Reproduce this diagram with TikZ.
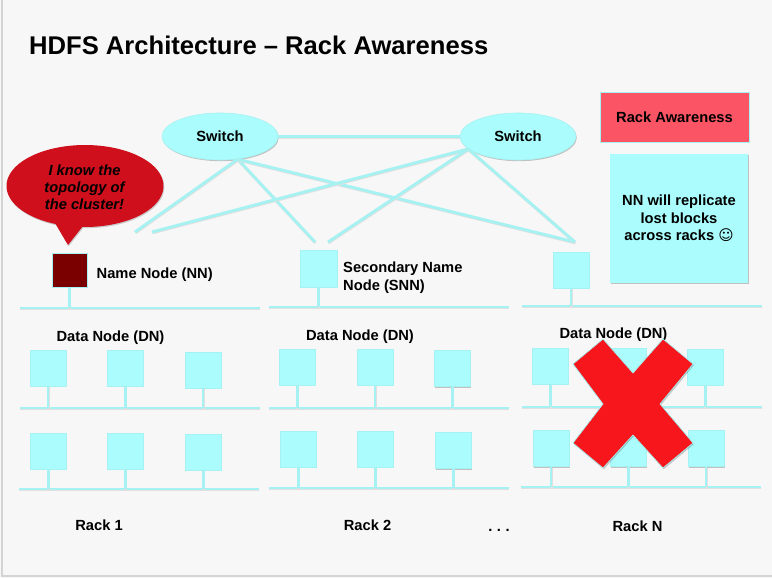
\documentclass[tikz,border=0pt]{standalone}
\usepackage{fontspec}
\setmainfont{Liberation Sans}
\newfontfamily\symfont{DejaVu Sans}
\usetikzlibrary{shapes.geometric,shadows}

\definecolor{paper}{HTML}{F7F7F7}
\definecolor{frame}{HTML}{D4D4D4}
\definecolor{aqua}{HTML}{ABFCFC}
\definecolor{wirecol}{HTML}{A6F1F1}
\definecolor{bubblered}{HTML}{CF101C}
\definecolor{nnred}{HTML}{7A0000}
\definecolor{tagred}{HTML}{FB5464}
\definecolor{xred}{HTML}{F6161B}

\tikzset{
  body/.style={font=\fontsize{14.7}{17.5}\selectfont\bfseries, inner sep=0pt},
  shadowed/.style={drop shadow={shadow xshift=0.8pt, shadow yshift=-1.2pt, opacity=0.22, fill=black}},
  wire/.style={draw=wirecol, line width=2.9pt,
    preaction={draw=black!12, line width=2.9pt, transform canvas={shift={(0.4pt,-0.9pt)}}}},
  hostflat/.style={rectangle, fill=aqua, draw=wirecol, line width=0.6pt,
    minimum width=36pt, minimum height=36pt, inner sep=0pt},
  hostbox/.style={hostflat, shadowed},
  switchnode/.style={ellipse, fill=aqua, draw=wirecol, line width=0.6pt,
    minimum width=116pt, minimum height=47pt, inner sep=0pt, shadowed, body},
}

\begin{document}
\begin{tikzpicture}[x=1pt, y=-1pt]
  % page
  \useasboundingbox (0,0) rectangle (772,578);
  \fill[paper] (0,0) rectangle (772,578);
  \draw[frame, line width=1.2pt] (2,0) -- (2,576) -- (772,576);

  % title
  \node[anchor=base west, inner sep=0pt, font=\fontsize{25.6}{30}\selectfont\bfseries]
    (title) at (29,55) {HDFS Architecture -- Rack Awareness};

  % switches
  \node[switchnode] (sw1) at (220,136.5) {Switch};
  \node[switchnode] (sw2) at (518,136.5) {Switch};

  % free ends of the uplinks
  \coordinate (upA) at (135,232);
  \coordinate (upB) at (152,232);
  \coordinate (upC) at (315,242);
  \coordinate (upD) at (328,242);
  \coordinate (upE) at (575,242);

  \draw[wire] (sw1.east) -- (sw2.west);
  \draw[wire] (sw1.-52) -- (upA);
  \draw[wire] (sw1.-52) -- (upC);
  \draw[wire] (sw1.-52) -- (upE);
  \draw[wire] (sw2.-166) -- (upB);
  \draw[wire] (sw2.-166) -- (upD);
  \draw[wire] (sw2.-166) -- (upE);

  % speech bubble
  \fill[black, opacity=0.18, shift={(0.8,1.2)}]
    (68,245) -- plot[domain=112:452, samples=120] ({85+78.5*cos(\x)},{186+41*sin(\x)}) -- cycle;
  \fill[bubblered]
    (68,245) -- plot[domain=112:452, samples=120] ({85+78.5*cos(\x)},{186+41*sin(\x)}) -- cycle;
  \node[body, align=center, font=\fontsize{14.7}{17.2}\selectfont\bfseries\itshape]
    (bubbletext) at (84.5,187) {I know the\\topology of\\the cluster!};

  % rack backbones
  \coordinate (r1top) at (20,308);   \coordinate (r1topE) at (260,308);
  \coordinate (r2top) at (269,307);  \coordinate (r2topE) at (509,307);
  \coordinate (r3top) at (522,306);  \coordinate (r3topE) at (762,306);
  \coordinate (r1a) at (20,408);     \coordinate (r1aE) at (260,408);
  \coordinate (r1b) at (19,489);     \coordinate (r1bE) at (259,489);
  \coordinate (r2a) at (269,408);    \coordinate (r2aE) at (509,408);
  \coordinate (r2b) at (269,488);    \coordinate (r2bE) at (509,488);
  \coordinate (r3a) at (522,407);    \coordinate (r3aE) at (762,407);
  \coordinate (r3b) at (521,487);    \coordinate (r3bE) at (761,487);
  \foreach \s/\e in {r1top/r1topE, r2top/r2topE, r3top/r3topE,
                     r1a/r1aE, r1b/r1bE, r2a/r2aE, r2b/r2bE, r3a/r3aE, r3b/r3bE}
    \draw[wire] (\s) -- (\e);

  % master row
  \node[hostbox, fill=nnred, minimum width=35pt, minimum height=34pt] (nn) at (69.5,270) {};
  \node[hostbox, minimum width=37pt, minimum height=37pt] (snn) at (318.5,268.5) {};
  \node[hostbox] (spare) at (571,270) {};
  \draw[wire] (nn.south) -- (nn.south |- r1top);
  \draw[wire] (snn.south) -- (snn.south |- r2top);
  \draw[wire] (spare.south) -- (spare.south |- r3top);
  \node[hostflat, fill=nnred, minimum width=35pt, minimum height=34pt] at (nn) {};
  \node[hostflat, minimum width=37pt, minimum height=37pt] at (snn) {};
  \node[hostflat] at (spare) {};

  \node[body, anchor=base west] (nnlabel) at (96.5,278) {Name Node (NN)};
  \node[body, anchor=north west, align=left, font=\fontsize{14.7}{18.5}\selectfont\bfseries]
    (snnlabel) at (343,261.5) {Secondary Name\\Node (SNN)};

  % data nodes: stems first, boxes on top
  \foreach \n/\x/\y/\bus in {
      d11a/48/368/r1a, d11b/125.5/368/r1a, d11c/203/370/r1a,
      d12a/48.5/451/r1b, d12b/125.5/451/r1b, d12c/203.5/452/r1b,
      d21a/297.5/367/r2a, d21b/375/367/r2a, d21c/452.5/368.5/r2a,
      d22a/298.5/449/r2b, d22b/375.5/449/r2b, d22c/453.5/450.5/r2b,
      d31a/550.5/366/r3a, d31b/628.5/366/r3a, d31c/705.5/367/r3a,
      d32a/551/448.5/r3b, d32b/628.5/448.5/r3b, d32c/706/448.5/r3b} {
    \node[hostbox] (\n) at (\x,\y) {};
    \draw[wire] (\n.south) -- (\n.south |- \bus);
    \node[hostflat] at (\n) {};
  }

  \node[body, anchor=base] (dn1) at (110.5,341) {Data Node (DN)};
  \node[body, anchor=base] (dn2) at (360,340) {Data Node (DN)};
  \node[body, anchor=base] (dn3) at (613.5,338.5) {Data Node (DN)};

  % rack captions
  \node[body, anchor=base] (rack1) at (99,530) {Rack 1};
  \node[body, anchor=base] (rack2) at (367.5,530) {Rack 2};
  \node[body, anchor=base] (dots)  at (499,531) {.\hspace{4.5pt}.\hspace{4.5pt}.};
  \node[body, anchor=base] (rackN) at (637.5,531) {Rack N};

  % failed rack
  \draw[wirecol, line width=0.7pt, fill=xred, shadowed]
    (573,364) -- (603,339) -- (633,373) -- (663,339) -- (693,364) -- (660,404)
    -- (693,443) -- (663,468) -- (633,435) -- (603,468) -- (573,443) -- (603,404) -- cycle;

  % side notes
  \node[rectangle, fill=tagred, draw=wirecol, line width=0.6pt, shadowed, body,
        minimum width=149pt, minimum height=50pt] (tag) at (674.5,117) {Rack Awareness};
  \node[rectangle, fill=aqua, shadowed, body, align=center,
        minimum width=138pt, minimum height=129pt] (note) at (679,218.5)
    {NN will replicate\\lost blocks\\across racks {\symfont ☺}};
\end{tikzpicture}
\end{document}
